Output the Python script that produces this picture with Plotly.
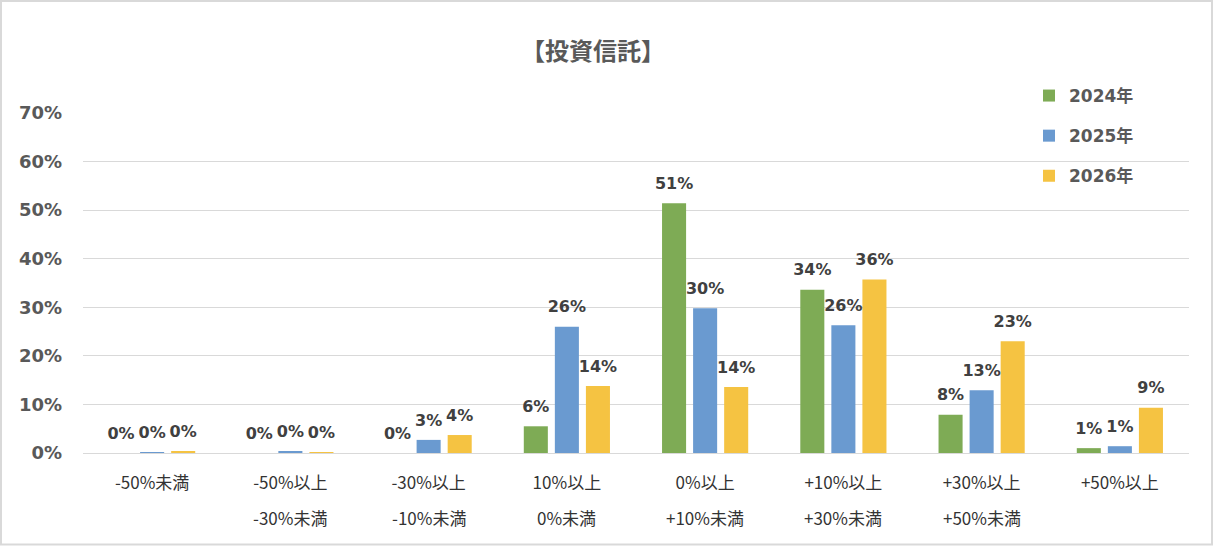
import plotly.graph_objects as go

# ---- data ----
cat_line1 = ["-50%未満", "-50%以上", "-30%以上", "10%以上", "0%以上", "+10%以上", "+30%以上", "+50%以上"]
cat_line2 = ["", "-30%未満", "-10%未満", "0%未満", "+10%未満", "+30%未満", "+50%未満", ""]
years = ["2024年", "2025年", "2026年"]
v2024 = [0.0, 0.0, 0.0, 0.055, 0.514, 0.336, 0.079, 0.010]
v2025 = [0.002, 0.004, 0.027, 0.260, 0.298, 0.263, 0.129, 0.014]
v2026 = [0.004, 0.002, 0.037, 0.138, 0.136, 0.357, 0.230, 0.093]
title_text = "【投資信託】"

colors = ["#7EAB55", "#6A9AD0", "#F5C342"]
W, H = 1213, 546
ML, MR, MT, MB = 83, 24, 113, 93
PW, PH = W - ML - MR, H - MT - MB

JP = "'Noto Sans CJK JP', sans-serif"
NUM = "'DejaVu Sans', 'Noto Sans CJK JP', sans-serif"

fig = go.Figure()
cats = list(range(len(cat_line1)))
for i, (name, vals) in enumerate(zip(years, [v2024, v2025, v2026])):
    fig.add_trace(go.Bar(
        x=cats, y=vals, name=name, marker=dict(color=colors[i], line=dict(width=0)),
        offsetgroup=str(i), alignmentgroup="g", legendgroup=name,
    ))
for i, (name, vals) in enumerate(zip(years, [v2024, v2025, v2026])):
    fig.add_trace(go.Scatter(
        x=cats, y=vals, mode="markers+text", text=[f"{round(v * 100)}%" for v in vals],
        textposition="top center", marker=dict(size=15, opacity=0),
        textfont=dict(size=16, color="#404040", family=NUM, weight="bold"),
        offsetgroup=str(i), alignmentgroup="g", showlegend=False, hoverinfo="skip",
        cliponaxis=False,
    ))

for i, t in enumerate(cat_line2):
    if t:
        fig.add_annotation(x=cats[i], y=0, xref="x", yref="paper", text=t, showarrow=False,
                           yanchor="middle", yshift=-64,
                           font=dict(size=17, color="#333333", family=JP))

fig.add_shape(type="rect", xref="paper", yref="paper",
              x0=-(ML - 1) / PW, x1=1 + (MR - 1) / PW, y0=-(MB - 1.5) / PH, y1=1 + (MT - 1) / PH,
              line=dict(color="#D9D9D9", width=2), layer="below")

fig.update_layout(
    width=W, height=H, margin=dict(l=ML, r=MR, t=MT, b=MB),
    paper_bgcolor="white", plot_bgcolor="white",
    title=dict(text=title_text, x=593 / W, xanchor="center", y=1 - 52 / H, yanchor="middle",
               font=dict(size=24, color="#595959", family=JP, weight="bold")),
    barmode="group", scattermode="group",
    bargap=0.326, bargroupgap=0.226, scattergap=0.326,
    showlegend=True,
    legend=dict(x=(1029 - ML) / PW, xanchor="left", y=1 + (MT - 78) / PH, yanchor="top",
                bgcolor="rgba(0,0,0,0)", traceorder="grouped", tracegroupgap=15,
                font=dict(size=17, color="#595959", family=NUM, weight="bold")),
    xaxis=dict(tickmode="array", tickvals=cats, ticktext=cat_line1, range=[-0.5, len(cats) - 0.5],
               showline=True, linecolor="#D9D9D9", linewidth=1, ticks="", showgrid=False,
               tickfont=dict(size=17, color="#333333", family=JP), ticklabelstandoff=15),
    yaxis=dict(range=[0, 0.7], dtick=0.1, tickformat=".0%", showgrid=True, gridcolor="#D9D9D9",
               gridwidth=1, zeroline=False, showline=False, ticks="",
               tickfont=dict(size=18, color="#595959", family=NUM, weight="bold"), ticklabelstandoff=20),
    font=dict(family=JP),
)
fig.write_html("out.html")
